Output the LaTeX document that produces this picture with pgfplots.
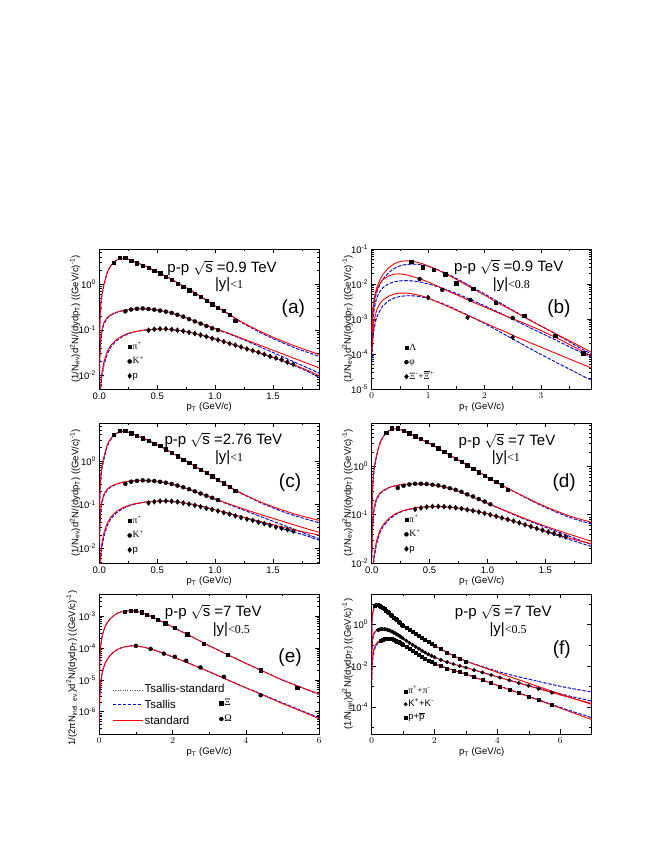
\documentclass[border=0pt]{standalone}
\usepackage{pgfplots}
\pgfplotsset{compat=1.18}
\usepackage{amsmath}
\usepackage{fontspec}
\setmainfont{Liberation Sans}
\newfontfamily\tnr{Liberation Serif}

\pgfplotsset{
  every axis/.append style={
    scale only axis, width=220pt, height=140pt,
    ymode=log, log basis y=10,
    axis line style={line width=0.7pt},
    xtick pos=both, ytick pos=both, tick align=inside,
    major tick length=4.5pt, minor tick length=2.5pt,
    tick style={black, line width=0.6pt},
    tick label style={font=\fontsize{9.5}{11}\selectfont},
    xlabel={p\textsubscript{T} (GeV/c)},
    legend cell align=left,
  },
  every axis x label/.style={at={(rel axis cs:0.5,-0.132)}, anchor=center, font=\fontsize{9.5}{11}\selectfont},
  every axis y label/.style={at={(rel axis cs:-0.11,0.5)}, anchor=center, rotate=90, font=\fontsize{9.5}{11}\selectfont},
  every axis legend/.append style={draw=none, fill=none, inner sep=0pt, row sep=3.5pt,
      font=\fontsize{9.5}{11}\selectfont,
      nodes={text height=7pt, text depth=2pt, inner sep=1pt}},
  redfit/.style={draw=red, line width=0.9pt, no marks},
  bluefit/.style={draw=blue, line width=0.9pt, dash pattern=on 3pt off 2pt, no marks},
  dotfit/.style={draw=black!70, line width=0.8pt, dash pattern=on 0.8pt off 1.6pt, no marks},
  msq/.style={only marks, mark=square*, mark size=1.7pt, black},
  mci/.style={only marks, mark=*, mark size=2.0pt, black},
  mdi/.style={only marks, mark=diamond*, mark size=2.5pt, black},
  fsq/.style={only marks, mark=square*, mark size=1.5pt, black},
  fci/.style={only marks, mark=*, mark size=1.8pt, black},
}
\tikzset{
  ttl/.style={font=\fontsize{15}{17}\selectfont},
  tagl/.style={font=\fontsize{19}{21}\selectfont},
}
\newcommand{\ylabA}{(1/N\textsubscript{ev})d\textsuperscript{2}N/(dydp\textsubscript{T}) ((GeV/c)\textsuperscript{-1})}
\newcommand{\ylabE}{1/(2πN\textsubscript{inel. ev.})d\textsuperscript{2}N/(dydp\textsubscript{T}) ((GeV/c)\textsuperscript{-1})}
\newcommand{\ylabF}{(1/N\textsubscript{inel})d\textsuperscript{2}N/(dydp\textsubscript{T}) ((GeV/c)\textsuperscript{-1})}
\newcommand{\yyy}[1]{|y|{\tnr\fontsize{12}{14}\selectfont <#1}}
\newcommand{\tenpow}[1]{10\textsuperscript{#1}}

\begin{document}
\begin{tikzpicture}
\path[use as bounding box] (0pt,0pt) rectangle (654pt,846pt);

% ================= (a) =================
\begin{axis}[at={(99.3pt,597pt)}, anchor=north west,
  xmin=0, xmax=1.9, ymin=0.005, ymax=6,
  xtick={0,0.5,1,1.5}, xticklabels={0.0,0.5,1.0,1.5}, minor xtick={0.25,0.75,1.25,1.75},
  ytick={0.01,0.1,1}, yticklabels={\tenpow{-2},\tenpow{-1},\tenpow{0}},
  minor ytick={0.006,0.007,0.008,0.009,0.02,0.03,0.04,0.05,0.06,0.07,0.08,0.09,0.2,0.3,0.4,0.5,0.6,0.7,0.8,0.9,2,3,4,5,6},
  ylabel={\ylabA},
  legend image code/.code={\draw[#1] plot coordinates {(0pt,0pt)};},
  legend style={at={(rel axis cs:0.128,0.341)}, anchor=north west}]
\addplot[dotfit, forget plot] coordinates {(0.002,0.05)(0.005,0.12)(0.01,0.25)(0.02,0.5)(0.035,0.83)(0.05,1.2)(0.065,1.7)(0.08,2.1)(0.1,2.55)(0.12,2.95)(0.15,3.42)(0.2,3.75)(0.25,3.6)(0.3,3.2)(0.4,2.5)(0.5,1.9)(0.6,1.4)(0.7,1.0)(0.8,0.71)(0.9,0.49)(1.0,0.335)(1.1,0.235)(1.2,0.16)(1.3,0.115)(1.4,0.085)(1.5,0.064)(1.6,0.05)(1.7,0.039)(1.8,0.032)(1.9,0.026)};
\addplot[bluefit, forget plot] coordinates {(0.002,0.05)(0.005,0.12)(0.01,0.25)(0.02,0.5)(0.035,0.83)(0.05,1.2)(0.065,1.7)(0.08,2.1)(0.1,2.55)(0.12,2.95)(0.15,3.42)(0.2,3.75)(0.25,3.6)(0.3,3.2)(0.4,2.5)(0.5,1.9)(0.6,1.4)(0.7,1.0)(0.8,0.71)(0.9,0.49)(1.0,0.335)(1.1,0.235)(1.2,0.16)(1.3,0.115)(1.4,0.085)(1.5,0.064)(1.6,0.05)(1.7,0.039)(1.8,0.032)(1.9,0.026)};
\addplot[dotfit, forget plot] coordinates {(0.002,0.009)(0.005,0.024)(0.01,0.046)(0.02,0.085)(0.04,0.135)(0.07,0.182)(0.1,0.21)(0.15,0.242)(0.2,0.263)(0.25,0.277)(0.3,0.285)(0.35,0.288)(0.4,0.287)(0.5,0.271)(0.6,0.245)(0.7,0.204)(0.8,0.164)(0.9,0.131)(1.0,0.105)(1.1,0.085)(1.2,0.068)(1.3,0.053)(1.4,0.041)(1.5,0.0318)(1.6,0.0245)(1.7,0.0188)(1.8,0.0145)(1.9,0.0112)};
\addplot[bluefit, forget plot] coordinates {(0.002,0.009)(0.005,0.024)(0.01,0.046)(0.02,0.085)(0.04,0.135)(0.07,0.182)(0.1,0.21)(0.15,0.242)(0.2,0.263)(0.25,0.277)(0.3,0.285)(0.35,0.288)(0.4,0.287)(0.5,0.271)(0.6,0.245)(0.7,0.204)(0.8,0.164)(0.9,0.131)(1.0,0.105)(1.1,0.085)(1.2,0.068)(1.3,0.053)(1.4,0.041)(1.5,0.0318)(1.6,0.0245)(1.7,0.0188)(1.8,0.0145)(1.9,0.0112)};
\addplot[dotfit, forget plot] coordinates {(0.005,0.002)(0.01,0.0042)(0.02,0.0085)(0.04,0.017)(0.07,0.03)(0.1,0.042)(0.15,0.058)(0.2,0.071)(0.25,0.082)(0.3,0.09)(0.4,0.1)(0.5,0.104)(0.6,0.103)(0.7,0.096)(0.8,0.086)(0.9,0.074)(1.0,0.063)(1.1,0.053)(1.2,0.044)(1.3,0.0363)(1.4,0.0298)(1.5,0.0244)(1.6,0.0198)(1.7,0.0158)(1.8,0.0122)(1.9,0.0089)};
\addplot[bluefit, forget plot] coordinates {(0.005,0.002)(0.01,0.0042)(0.02,0.0085)(0.04,0.017)(0.07,0.03)(0.1,0.042)(0.15,0.058)(0.2,0.071)(0.25,0.082)(0.3,0.09)(0.4,0.1)(0.5,0.104)(0.6,0.103)(0.7,0.096)(0.8,0.086)(0.9,0.074)(1.0,0.063)(1.1,0.053)(1.2,0.044)(1.3,0.0363)(1.4,0.0298)(1.5,0.0244)(1.6,0.0198)(1.7,0.0158)(1.8,0.0122)(1.9,0.0089)};
\addplot[redfit, forget plot] coordinates {(0.002,0.06)(0.005,0.15)(0.01,0.3)(0.02,0.55)(0.035,0.88)(0.05,1.25)(0.065,1.75)(0.08,2.15)(0.1,2.6)(0.12,3.0)(0.15,3.45)(0.2,3.75)(0.25,3.6)(0.3,3.2)(0.4,2.5)(0.5,1.9)(0.6,1.4)(0.7,1.0)(0.8,0.72)(0.9,0.5)(1.0,0.34)(1.1,0.24)(1.2,0.165)(1.3,0.12)(1.4,0.09)(1.5,0.069)(1.6,0.054)(1.7,0.043)(1.8,0.035)(1.9,0.0286)};
\addplot[redfit, forget plot] coordinates {(0.002,0.012)(0.005,0.03)(0.01,0.055)(0.02,0.095)(0.04,0.145)(0.07,0.19)(0.1,0.215)(0.15,0.245)(0.2,0.265)(0.25,0.278)(0.3,0.286)(0.35,0.289)(0.4,0.288)(0.5,0.272)(0.6,0.246)(0.7,0.205)(0.8,0.165)(0.9,0.132)(1.0,0.107)(1.1,0.0875)(1.2,0.07)(1.3,0.0558)(1.4,0.0446)(1.5,0.0356)(1.6,0.0285)(1.7,0.0227)(1.8,0.0182)(1.9,0.0145)};
\addplot[redfit, forget plot] coordinates {(0.005,0.003)(0.01,0.0055)(0.02,0.0105)(0.04,0.02)(0.07,0.034)(0.1,0.046)(0.15,0.062)(0.2,0.074)(0.25,0.084)(0.3,0.091)(0.4,0.1)(0.5,0.104)(0.6,0.103)(0.7,0.096)(0.8,0.086)(0.9,0.074)(1.0,0.063)(1.1,0.053)(1.2,0.044)(1.3,0.0365)(1.4,0.0303)(1.5,0.025)(1.6,0.0203)(1.7,0.0163)(1.8,0.0128)(1.9,0.0098)};
\addplot[msq] coordinates {(0.125,3.0)(0.175,3.9)(0.225,3.85)(0.275,3.35)(0.325,2.95)(0.375,2.6)(0.425,2.3)(0.475,2.0)(0.525,1.76)(0.575,1.48)(0.625,1.26)(0.675,1.05)(0.725,0.88)(0.775,0.74)(0.825,0.62)(0.875,0.53)(0.925,0.44)(0.975,0.37)(1.025,0.31)(1.075,0.26)(1.125,0.215)(1.175,0.16)};
\addlegendentry{{\tnr π\textsuperscript{+}}}
\addplot[mci] coordinates {(0.225,0.255)(0.275,0.28)(0.325,0.29)(0.375,0.295)(0.425,0.287)(0.475,0.278)(0.525,0.265)(0.575,0.252)(0.625,0.236)(0.675,0.215)(0.725,0.195)(0.775,0.172)(0.825,0.153)(0.875,0.137)(0.925,0.122)(0.975,0.108)(1.025,0.099)};
\addlegendentry{{\tnr K\textsuperscript{+}}}
\addplot[mdi] coordinates {(0.425,0.098)(0.475,0.103)(0.525,0.105)(0.575,0.105)(0.625,0.102)(0.675,0.098)(0.725,0.094)(0.775,0.088)(0.825,0.083)(0.875,0.077)(0.925,0.071)(0.975,0.065)(1.025,0.06)(1.075,0.055)(1.125,0.05)(1.175,0.046)(1.225,0.042)(1.275,0.038)(1.325,0.035)(1.375,0.032)(1.425,0.029)(1.475,0.026)(1.525,0.024)(1.575,0.022)(1.625,0.0195)(1.675,0.0175)};
\addlegendentry{p}
\node[ttl] at (rel axis cs:0.558,0.866) {p-p $\sqrt{\text{s}}$ =0.9 TeV};
\node[ttl] at (rel axis cs:0.59,0.747) {\yyy{1}};
\node[tagl] at (rel axis cs:0.882,0.574) {(a)};
\end{axis}

% ================= (b) =================
\begin{axis}[at={(371.7pt,597pt)}, anchor=north west,
  xmin=0, xmax=3.9, ymin=1e-5, ymax=0.1,
  xtick={0,1,2,3}, minor xtick={0.5,1.5,2.5,3.5},
  ytick={1e-5,1e-4,1e-3,1e-2,1e-1}, yticklabels={\tenpow{-5},\tenpow{-4},\tenpow{-3},\tenpow{-2},\tenpow{-1}},
  minor ytick={2e-5,3e-5,4e-5,5e-5,6e-5,7e-5,8e-5,9e-5,2e-4,3e-4,4e-4,5e-4,6e-4,7e-4,8e-4,9e-4,2e-3,3e-3,4e-3,5e-3,6e-3,7e-3,8e-3,9e-3,0.02,0.03,0.04,0.05,0.06,0.07,0.08,0.09},
  ylabel={\ylabA},
  legend image code/.code={\draw[#1] plot coordinates {(0pt,0pt)};},
  legend style={at={(rel axis cs:0.148,0.336)}, anchor=north west}]
\addplot[dotfit, forget plot] coordinates {(0.005,0.0003)(0.01,0.0006)(0.02,0.0012)(0.04,0.0025)(0.07,0.0045)(0.1,0.0065)(0.15,0.01)(0.2,0.0138)(0.3,0.021)(0.4,0.028)(0.5,0.033)(0.6,0.036)(0.7,0.037)(0.8,0.0365)(0.9,0.035)(1.0,0.032)(1.2,0.0245)(1.4,0.0175)(1.6,0.0118)(1.8,0.0079)(2.0,0.0052)(2.2,0.0034)(2.4,0.0022)(2.6,0.00145)(2.8,0.00095)(3.0,0.00063)(3.2,0.00042)(3.4,0.00028)(3.6,0.00018)(3.8,0.00012)(3.9,0.0001)};
\addplot[bluefit, forget plot] coordinates {(0.005,0.0003)(0.01,0.0006)(0.02,0.0012)(0.04,0.0025)(0.07,0.0045)(0.1,0.0065)(0.15,0.01)(0.2,0.0138)(0.3,0.021)(0.4,0.028)(0.5,0.033)(0.6,0.036)(0.7,0.037)(0.8,0.0365)(0.9,0.035)(1.0,0.032)(1.2,0.0245)(1.4,0.0175)(1.6,0.0118)(1.8,0.0079)(2.0,0.0052)(2.2,0.0034)(2.4,0.0022)(2.6,0.00145)(2.8,0.00095)(3.0,0.00063)(3.2,0.00042)(3.4,0.00028)(3.6,0.00018)(3.8,0.00012)(3.9,0.0001)};
\addplot[dotfit, forget plot] coordinates {(0.005,0.00022)(0.01,0.00045)(0.02,0.0009)(0.04,0.0018)(0.07,0.0031)(0.1,0.0044)(0.15,0.0063)(0.2,0.0079)(0.3,0.0102)(0.4,0.0116)(0.5,0.0123)(0.6,0.0125)(0.7,0.0123)(0.8,0.0118)(0.9,0.011)(1.0,0.0101)(1.2,0.0081)(1.4,0.0062)(1.6,0.0046)(1.8,0.0033)(2.0,0.0024)(2.2,0.0017)(2.4,0.00118)(2.6,0.00082)(2.8,0.00057)(3.0,0.0004)(3.2,0.00028)(3.4,0.000195)(3.6,0.000135)(3.8,0.000095)(3.9,0.00008)};
\addplot[bluefit, forget plot] coordinates {(0.005,0.00022)(0.01,0.00045)(0.02,0.0009)(0.04,0.0018)(0.07,0.0031)(0.1,0.0044)(0.15,0.0063)(0.2,0.0079)(0.3,0.0102)(0.4,0.0116)(0.5,0.0123)(0.6,0.0125)(0.7,0.0123)(0.8,0.0118)(0.9,0.011)(1.0,0.0101)(1.2,0.0081)(1.4,0.0062)(1.6,0.0046)(1.8,0.0033)(2.0,0.0024)(2.2,0.0017)(2.4,0.00118)(2.6,0.00082)(2.8,0.00057)(3.0,0.0004)(3.2,0.00028)(3.4,0.000195)(3.6,0.000135)(3.8,0.000095)(3.9,0.00008)};
\addplot[dotfit, forget plot] coordinates {(0.005,0.00006)(0.01,0.00012)(0.02,0.00025)(0.04,0.0005)(0.07,0.00088)(0.1,0.00125)(0.15,0.0018)(0.2,0.0024)(0.3,0.0033)(0.4,0.004)(0.5,0.0044)(0.6,0.0046)(0.7,0.0046)(0.8,0.0045)(0.9,0.0042)(1.0,0.0039)(1.2,0.003)(1.4,0.0022)(1.6,0.00155)(1.8,0.00108)(2.0,0.00074)(2.2,0.0005)(2.4,0.00033)(2.6,0.00022)(2.8,0.000145)(3.0,0.000097)(3.2,0.000066)(3.4,0.000045)(3.6,0.000031)(3.8,0.000021)(3.9,0.000018)};
\addplot[bluefit, forget plot] coordinates {(0.005,0.00006)(0.01,0.00012)(0.02,0.00025)(0.04,0.0005)(0.07,0.00088)(0.1,0.00125)(0.15,0.0018)(0.2,0.0024)(0.3,0.0033)(0.4,0.004)(0.5,0.0044)(0.6,0.0046)(0.7,0.0046)(0.8,0.0045)(0.9,0.0042)(1.0,0.0039)(1.2,0.003)(1.4,0.0022)(1.6,0.00155)(1.8,0.00108)(2.0,0.00074)(2.2,0.0005)(2.4,0.00033)(2.6,0.00022)(2.8,0.000145)(3.0,0.000097)(3.2,0.000066)(3.4,0.000045)(3.6,0.000031)(3.8,0.000021)(3.9,0.000018)};
\addplot[redfit, forget plot] coordinates {(0.005,0.00045)(0.01,0.0009)(0.02,0.0018)(0.04,0.0036)(0.07,0.0062)(0.1,0.0088)(0.15,0.0135)(0.2,0.019)(0.3,0.029)(0.4,0.038)(0.5,0.044)(0.6,0.046)(0.7,0.045)(0.8,0.042)(0.9,0.038)(1.0,0.033)(1.2,0.024)(1.4,0.0165)(1.6,0.011)(1.8,0.0073)(2.0,0.0048)(2.2,0.0031)(2.4,0.0021)(2.6,0.0014)(2.8,0.00093)(3.0,0.00063)(3.2,0.00043)(3.4,0.00029)(3.6,0.0002)(3.8,0.000135)(3.9,0.000112)};
\addplot[redfit, forget plot] coordinates {(0.005,0.0004)(0.01,0.0008)(0.02,0.0016)(0.04,0.0032)(0.07,0.0054)(0.1,0.0075)(0.15,0.0105)(0.2,0.0133)(0.3,0.017)(0.4,0.0192)(0.5,0.0195)(0.6,0.0185)(0.7,0.0168)(0.8,0.015)(0.9,0.0132)(1.0,0.0114)(1.2,0.0082)(1.4,0.0058)(1.6,0.0042)(1.8,0.003)(2.0,0.0022)(2.2,0.0016)(2.4,0.00118)(2.6,0.00088)(2.8,0.00065)(3.0,0.00047)(3.2,0.00033)(3.4,0.00023)(3.6,0.000155)(3.8,0.000105)(3.9,0.000088)};
\addplot[redfit, forget plot] coordinates {(0.005,0.0001)(0.01,0.0002)(0.02,0.0004)(0.04,0.0008)(0.07,0.0014)(0.1,0.002)(0.15,0.0028)(0.2,0.0035)(0.3,0.0045)(0.4,0.0052)(0.5,0.0055)(0.6,0.0055)(0.7,0.0053)(0.8,0.0049)(0.9,0.0045)(1.0,0.004)(1.2,0.0029)(1.4,0.0021)(1.6,0.0015)(1.8,0.00108)(2.0,0.00078)(2.2,0.00056)(2.4,0.00041)(2.6,0.00029)(2.8,0.000213)(3.0,0.000157)(3.2,0.000115)(3.4,0.000085)(3.6,0.000062)(3.8,0.000046)(3.9,0.000039)};
\addplot[msq] coordinates {(0.7,0.043)(0.9,0.030)(1.1,0.026)(1.3,0.019)(1.5,0.0105)(1.8,0.0072)(2.2,0.0029)(2.7,0.00123)(3.25,0.00033)(3.75,0.000105)};
\addlegendentry{{\tnr Λ}}
\addplot[mci] coordinates {(0.85,0.0139)(1.25,0.0068)(1.75,0.0035)(2.5,0.00107)};
\addlegendentry{{\tnr φ}}
\addplot[mdi] coordinates {(1.0,0.0041)(1.7,0.0011)(2.5,0.0003)};
\addlegendentry{{\tnr Ξ\textsuperscript{-}+$\overline{\text{Ξ}}$\textsuperscript{+}}}
\node[ttl] at (rel axis cs:0.623,0.873) {p-p $\sqrt{\text{s}}$ =0.9 TeV};
\node[ttl] at (rel axis cs:0.635,0.747) {\yyy{0.8}};
\node[tagl] at (rel axis cs:0.851,0.574) {(b)};
\end{axis}

% ================= (c) =================
\begin{axis}[at={(99.3pt,423pt)}, anchor=north west,
  xmin=0, xmax=1.9, ymin=0.0047, ymax=7.3,
  xtick={0,0.5,1,1.5}, xticklabels={0.0,0.5,1.0,1.5}, minor xtick={0.25,0.75,1.25,1.75},
  ytick={0.01,0.1,1}, yticklabels={\tenpow{-2},\tenpow{-1},\tenpow{0}},
  minor ytick={0.005,0.006,0.007,0.008,0.009,0.02,0.03,0.04,0.05,0.06,0.07,0.08,0.09,0.2,0.3,0.4,0.5,0.6,0.7,0.8,0.9,2,3,4,5,6,7},
  ylabel={\ylabA},
  legend image code/.code={\draw[#1] plot coordinates {(0pt,0pt)};},
  legend style={at={(rel axis cs:0.128,0.341)}, anchor=north west}]
\addplot[dotfit, forget plot] coordinates {(0.002,0.06)(0.005,0.15)(0.01,0.31)(0.02,0.6)(0.035,0.95)(0.05,1.4)(0.065,2.0)(0.08,2.5)(0.1,3.1)(0.12,3.65)(0.15,4.25)(0.2,4.7)(0.25,4.5)(0.3,4.0)(0.4,3.1)(0.5,2.35)(0.6,1.68)(0.7,1.18)(0.8,0.83)(0.9,0.58)(1.0,0.4)(1.1,0.275)(1.2,0.196)(1.3,0.145)(1.4,0.108)(1.5,0.085)(1.6,0.067)(1.7,0.055)(1.8,0.046)(1.9,0.039)};
\addplot[bluefit, forget plot] coordinates {(0.002,0.06)(0.005,0.15)(0.01,0.31)(0.02,0.6)(0.035,0.95)(0.05,1.4)(0.065,2.0)(0.08,2.5)(0.1,3.1)(0.12,3.65)(0.15,4.25)(0.2,4.7)(0.25,4.5)(0.3,4.0)(0.4,3.1)(0.5,2.35)(0.6,1.68)(0.7,1.18)(0.8,0.83)(0.9,0.58)(1.0,0.4)(1.1,0.275)(1.2,0.196)(1.3,0.145)(1.4,0.108)(1.5,0.085)(1.6,0.067)(1.7,0.055)(1.8,0.046)(1.9,0.039)};
\addplot[dotfit, forget plot] coordinates {(0.002,0.011)(0.005,0.028)(0.01,0.055)(0.02,0.1)(0.04,0.162)(0.07,0.22)(0.1,0.255)(0.15,0.296)(0.2,0.323)(0.25,0.341)(0.3,0.351)(0.35,0.356)(0.4,0.355)(0.5,0.341)(0.6,0.307)(0.7,0.26)(0.8,0.212)(0.9,0.169)(1.0,0.134)(1.1,0.106)(1.2,0.084)(1.3,0.067)(1.4,0.053)(1.5,0.042)(1.6,0.0335)(1.7,0.0265)(1.8,0.021)(1.9,0.0168)};
\addplot[bluefit, forget plot] coordinates {(0.002,0.011)(0.005,0.028)(0.01,0.055)(0.02,0.1)(0.04,0.162)(0.07,0.22)(0.1,0.255)(0.15,0.296)(0.2,0.323)(0.25,0.341)(0.3,0.351)(0.35,0.356)(0.4,0.355)(0.5,0.341)(0.6,0.307)(0.7,0.26)(0.8,0.212)(0.9,0.169)(1.0,0.134)(1.1,0.106)(1.2,0.084)(1.3,0.067)(1.4,0.053)(1.5,0.042)(1.6,0.0335)(1.7,0.0265)(1.8,0.021)(1.9,0.0168)};
\addplot[dotfit, forget plot] coordinates {(0.005,0.0024)(0.01,0.0048)(0.02,0.0097)(0.04,0.019)(0.07,0.034)(0.1,0.048)(0.15,0.066)(0.2,0.081)(0.25,0.093)(0.3,0.102)(0.4,0.115)(0.5,0.121)(0.6,0.121)(0.7,0.114)(0.8,0.103)(0.9,0.09)(1.0,0.077)(1.1,0.065)(1.2,0.055)(1.3,0.0465)(1.4,0.039)(1.5,0.033)(1.6,0.0275)(1.7,0.0232)(1.8,0.0192)(1.9,0.0155)};
\addplot[bluefit, forget plot] coordinates {(0.005,0.0024)(0.01,0.0048)(0.02,0.0097)(0.04,0.019)(0.07,0.034)(0.1,0.048)(0.15,0.066)(0.2,0.081)(0.25,0.093)(0.3,0.102)(0.4,0.115)(0.5,0.121)(0.6,0.121)(0.7,0.114)(0.8,0.103)(0.9,0.09)(1.0,0.077)(1.1,0.065)(1.2,0.055)(1.3,0.0465)(1.4,0.039)(1.5,0.033)(1.6,0.0275)(1.7,0.0232)(1.8,0.0192)(1.9,0.0155)};
\addplot[redfit, forget plot] coordinates {(0.002,0.075)(0.005,0.19)(0.01,0.38)(0.02,0.7)(0.035,1.1)(0.05,1.56)(0.065,2.2)(0.08,2.7)(0.1,3.25)(0.12,3.75)(0.15,4.3)(0.2,4.7)(0.25,4.5)(0.3,4.0)(0.4,3.1)(0.5,2.35)(0.6,1.68)(0.7,1.18)(0.8,0.83)(0.9,0.58)(1.0,0.405)(1.1,0.28)(1.2,0.2)(1.3,0.148)(1.4,0.113)(1.5,0.09)(1.6,0.073)(1.7,0.06)(1.8,0.051)(1.9,0.044)};
\addplot[redfit, forget plot] coordinates {(0.002,0.014)(0.005,0.035)(0.01,0.066)(0.02,0.115)(0.04,0.175)(0.07,0.23)(0.1,0.262)(0.15,0.3)(0.2,0.325)(0.25,0.342)(0.3,0.352)(0.35,0.357)(0.4,0.356)(0.5,0.342)(0.6,0.308)(0.7,0.262)(0.8,0.214)(0.9,0.171)(1.0,0.136)(1.1,0.109)(1.2,0.088)(1.3,0.072)(1.4,0.059)(1.5,0.049)(1.6,0.0405)(1.7,0.0335)(1.8,0.028)(1.9,0.0235)};
\addplot[redfit, forget plot] coordinates {(0.005,0.0034)(0.01,0.0063)(0.02,0.012)(0.04,0.023)(0.07,0.039)(0.1,0.053)(0.15,0.071)(0.2,0.085)(0.25,0.096)(0.3,0.105)(0.4,0.116)(0.5,0.121)(0.6,0.121)(0.7,0.114)(0.8,0.103)(0.9,0.09)(1.0,0.077)(1.1,0.066)(1.2,0.056)(1.3,0.048)(1.4,0.041)(1.5,0.035)(1.6,0.03)(1.7,0.0262)(1.8,0.023)(1.9,0.0203)};
\addplot[msq] coordinates {(0.125,3.9)(0.175,4.85)(0.225,4.85)(0.275,4.3)(0.325,3.75)(0.375,3.3)(0.425,2.9)(0.475,2.5)(0.525,2.2)(0.575,1.84)(0.625,1.54)(0.675,1.29)(0.725,1.08)(0.775,0.905)(0.825,0.757)(0.875,0.634)(0.925,0.53)(0.975,0.444)(1.025,0.372)(1.075,0.31)(1.125,0.255)(1.175,0.21)};
\addlegendentry{{\tnr π\textsuperscript{+}}}
\addplot[mci] coordinates {(0.225,0.30)(0.275,0.335)(0.325,0.35)(0.375,0.36)(0.425,0.355)(0.475,0.347)(0.525,0.333)(0.575,0.318)(0.625,0.298)(0.675,0.274)(0.725,0.25)(0.775,0.226)(0.825,0.202)(0.875,0.18)(0.925,0.161)(0.975,0.144)(1.025,0.128)};
\addlegendentry{{\tnr K\textsuperscript{+}}}
\addplot[mdi] coordinates {(0.425,0.11)(0.475,0.117)(0.525,0.121)(0.575,0.122)(0.625,0.12)(0.675,0.116)(0.725,0.11)(0.775,0.104)(0.825,0.097)(0.875,0.09)(0.925,0.083)(0.975,0.078)(1.025,0.072)(1.075,0.066)(1.125,0.061)(1.175,0.056)(1.225,0.051)(1.275,0.047)(1.325,0.044)(1.375,0.04)(1.425,0.037)(1.475,0.034)(1.525,0.031)(1.575,0.029)(1.625,0.027)(1.675,0.025)};
\addlegendentry{p}
\node[ttl] at (rel axis cs:0.564,0.878) {p-p $\sqrt{\text{s}}$ =2.76 TeV};
\node[ttl] at (rel axis cs:0.59,0.754) {\yyy{1}};
\node[tagl] at (rel axis cs:0.867,0.574) {(c)};
\end{axis}

% ================= (d) =================
\begin{axis}[at={(371.7pt,423pt)}, anchor=north west,
  xmin=0, xmax=1.9, ymin=0.01, ymax=8,
  xtick={0,0.5,1,1.5}, xticklabels={0.0,0.5,1.0,1.5}, minor xtick={0.25,0.75,1.25,1.75},
  ytick={0.01,0.1,1}, yticklabels={\tenpow{-2},\tenpow{-1},\tenpow{0}},
  minor ytick={0.02,0.03,0.04,0.05,0.06,0.07,0.08,0.09,0.2,0.3,0.4,0.5,0.6,0.7,0.8,0.9,2,3,4,5,6,7,8},
  ylabel={\ylabA},
  legend image code/.code={\draw[#1] plot coordinates {(0pt,0pt)};},
  legend style={at={(rel axis cs:0.148,0.349)}, anchor=north west}]
\addplot[dotfit, forget plot] coordinates {(0.002,0.08)(0.005,0.2)(0.01,0.42)(0.02,0.8)(0.035,1.35)(0.05,1.95)(0.065,2.7)(0.08,3.4)(0.1,4.1)(0.12,4.85)(0.15,5.55)(0.2,6.05)(0.25,5.8)(0.3,5.2)(0.4,3.95)(0.5,3.0)(0.6,2.2)(0.7,1.6)(0.8,1.16)(0.9,0.84)(1.0,0.6)(1.1,0.44)(1.2,0.328)(1.3,0.245)(1.4,0.185)(1.5,0.142)(1.6,0.112)(1.7,0.09)(1.8,0.075)(1.9,0.064)};
\addplot[bluefit, forget plot] coordinates {(0.002,0.08)(0.005,0.2)(0.01,0.42)(0.02,0.8)(0.035,1.35)(0.05,1.95)(0.065,2.7)(0.08,3.4)(0.1,4.1)(0.12,4.85)(0.15,5.55)(0.2,6.05)(0.25,5.8)(0.3,5.2)(0.4,3.95)(0.5,3.0)(0.6,2.2)(0.7,1.6)(0.8,1.16)(0.9,0.84)(1.0,0.6)(1.1,0.44)(1.2,0.328)(1.3,0.245)(1.4,0.185)(1.5,0.142)(1.6,0.112)(1.7,0.09)(1.8,0.075)(1.9,0.064)};
\addplot[dotfit, forget plot] coordinates {(0.002,0.013)(0.005,0.034)(0.01,0.066)(0.02,0.122)(0.04,0.2)(0.07,0.27)(0.1,0.312)(0.15,0.365)(0.2,0.397)(0.25,0.418)(0.3,0.431)(0.35,0.437)(0.4,0.437)(0.5,0.424)(0.6,0.389)(0.7,0.339)(0.8,0.274)(0.9,0.219)(1.0,0.172)(1.1,0.136)(1.2,0.107)(1.3,0.085)(1.4,0.068)(1.5,0.055)(1.6,0.045)(1.7,0.0365)(1.8,0.0295)(1.9,0.024)};
\addplot[bluefit, forget plot] coordinates {(0.002,0.013)(0.005,0.034)(0.01,0.066)(0.02,0.122)(0.04,0.2)(0.07,0.27)(0.1,0.312)(0.15,0.365)(0.2,0.397)(0.25,0.418)(0.3,0.431)(0.35,0.437)(0.4,0.437)(0.5,0.424)(0.6,0.389)(0.7,0.339)(0.8,0.274)(0.9,0.219)(1.0,0.172)(1.1,0.136)(1.2,0.107)(1.3,0.085)(1.4,0.068)(1.5,0.055)(1.6,0.045)(1.7,0.0365)(1.8,0.0295)(1.9,0.024)};
\addplot[dotfit, forget plot] coordinates {(0.01,0.0062)(0.02,0.012)(0.04,0.024)(0.07,0.042)(0.1,0.058)(0.15,0.08)(0.2,0.099)(0.25,0.114)(0.3,0.126)(0.4,0.141)(0.5,0.148)(0.6,0.148)(0.7,0.142)(0.8,0.132)(0.9,0.12)(1.0,0.105)(1.1,0.09)(1.2,0.077)(1.3,0.065)(1.4,0.054)(1.5,0.045)(1.6,0.0375)(1.7,0.031)(1.8,0.026)(1.9,0.022)};
\addplot[bluefit, forget plot] coordinates {(0.01,0.0062)(0.02,0.012)(0.04,0.024)(0.07,0.042)(0.1,0.058)(0.15,0.08)(0.2,0.099)(0.25,0.114)(0.3,0.126)(0.4,0.141)(0.5,0.148)(0.6,0.148)(0.7,0.142)(0.8,0.132)(0.9,0.12)(1.0,0.105)(1.1,0.09)(1.2,0.077)(1.3,0.065)(1.4,0.054)(1.5,0.045)(1.6,0.0375)(1.7,0.031)(1.8,0.026)(1.9,0.022)};
\addplot[redfit, forget plot] coordinates {(0.002,0.1)(0.005,0.25)(0.01,0.5)(0.02,0.92)(0.035,1.45)(0.05,2.05)(0.065,2.8)(0.08,3.5)(0.1,4.2)(0.12,4.9)(0.15,5.6)(0.2,6.05)(0.25,5.8)(0.3,5.2)(0.4,3.95)(0.5,3.0)(0.6,2.2)(0.7,1.6)(0.8,1.16)(0.9,0.84)(1.0,0.6)(1.1,0.44)(1.2,0.33)(1.3,0.25)(1.4,0.19)(1.5,0.148)(1.6,0.118)(1.7,0.096)(1.8,0.081)(1.9,0.0695)};
\addplot[redfit, forget plot] coordinates {(0.002,0.017)(0.005,0.043)(0.01,0.08)(0.02,0.14)(0.04,0.215)(0.07,0.28)(0.1,0.32)(0.15,0.37)(0.2,0.4)(0.25,0.42)(0.3,0.432)(0.35,0.438)(0.4,0.438)(0.5,0.425)(0.6,0.39)(0.7,0.34)(0.8,0.275)(0.9,0.22)(1.0,0.174)(1.1,0.138)(1.2,0.11)(1.3,0.088)(1.4,0.071)(1.5,0.058)(1.6,0.048)(1.7,0.04)(1.8,0.0335)(1.9,0.028)};
\addplot[redfit, forget plot] coordinates {(0.005,0.004)(0.01,0.0075)(0.02,0.0145)(0.04,0.028)(0.07,0.047)(0.1,0.063)(0.15,0.085)(0.2,0.103)(0.25,0.117)(0.3,0.128)(0.4,0.142)(0.5,0.148)(0.6,0.148)(0.7,0.142)(0.8,0.132)(0.9,0.12)(1.0,0.105)(1.1,0.09)(1.2,0.077)(1.3,0.065)(1.4,0.055)(1.5,0.046)(1.6,0.039)(1.7,0.033)(1.8,0.0285)(1.9,0.025)};
\addplot[msq] coordinates {(0.125,5.0)(0.175,6.3)(0.225,6.3)(0.275,5.6)(0.325,4.9)(0.375,4.3)(0.425,3.75)(0.475,3.25)(0.525,2.8)(0.575,2.38)(0.625,2.03)(0.675,1.73)(0.725,1.47)(0.775,1.25)(0.825,1.06)(0.875,0.905)(0.925,0.77)(0.975,0.655)(1.025,0.557)(1.075,0.48)(1.125,0.41)(1.175,0.33)};
\addlegendentry{{\tnr π\textsuperscript{+}}}
\addplot[mci] coordinates {(0.225,0.36)(0.275,0.4)(0.325,0.425)(0.375,0.44)(0.425,0.44)(0.475,0.435)(0.525,0.42)(0.575,0.405)(0.625,0.38)(0.675,0.355)(0.725,0.33)(0.775,0.3)(0.825,0.265)(0.875,0.24)(0.925,0.212)(0.975,0.188)(1.025,0.165)};
\addlegendentry{{\tnr K\textsuperscript{+}}}
\addplot[mdi] coordinates {(0.375,0.13)(0.425,0.138)(0.475,0.145)(0.525,0.149)(0.575,0.149)(0.625,0.147)(0.675,0.144)(0.725,0.14)(0.775,0.134)(0.825,0.127)(0.875,0.121)(0.925,0.114)(0.975,0.107)(1.025,0.1)(1.075,0.093)(1.125,0.086)(1.175,0.08)(1.225,0.074)(1.275,0.068)(1.325,0.062)(1.375,0.057)(1.425,0.052)(1.475,0.048)(1.525,0.044)(1.575,0.041)(1.625,0.038)(1.675,0.035)};
\addlegendentry{p}
\node[ttl] at (rel axis cs:0.615,0.873) {p-p $\sqrt{\text{s}}$ =7 TeV};
\node[ttl] at (rel axis cs:0.61,0.754) {\yyy{1}};
\node[tagl] at (rel axis cs:0.875,0.574) {(d)};
\end{axis}

% ================= (e) =================
\begin{axis}[at={(99.3pt,252pt)}, anchor=north west,
  xmin=0, xmax=6, ymin=2e-7, ymax=5e-3,
  xtick={0,2,4,6}, minor xtick={1,3,5},
  ytick={1e-6,1e-5,1e-4,1e-3}, yticklabels={\tenpow{-6},\tenpow{-5},\tenpow{-4},\tenpow{-3}},
  minor ytick={3e-7,4e-7,5e-7,6e-7,7e-7,8e-7,9e-7,2e-6,3e-6,4e-6,5e-6,6e-6,7e-6,8e-6,9e-6,2e-5,3e-5,4e-5,5e-5,6e-5,7e-5,8e-5,9e-5,2e-4,3e-4,4e-4,5e-4,6e-4,7e-4,8e-4,9e-4,2e-3,3e-3,4e-3},
  ylabel={\ylabE},
  ylabel style={at={(rel axis cs:-0.125,0.47)}},
  legend image code/.code={\path (0pt,0pt) -- (30pt,0pt);},
  legend style={at={(rel axis cs:0.062,0.37)}, anchor=north west, row sep=2pt,
    font=\fontsize{11.5}{13}\selectfont, nodes={text height=8.5pt, text depth=2.5pt, inner sep=1.5pt}}]
\addplot[dotfit, forget plot] coordinates {(0.002,5e-6)(0.005,1.3e-5)(0.01,2.8e-5)(0.02,5.8e-5)(0.04,1.18e-4)(0.07,2.1e-4)(0.1,3e-4)(0.15,4.5e-4)(0.2,5.9e-4)(0.3,8.4e-4)(0.4,1.06e-3)(0.5,1.25e-3)(0.6,1.38e-3)(0.7,1.46e-3)(0.85,1.5e-3)(1.0,1.46e-3)(1.2,1.25e-3)(1.4,1.0e-3)(1.6,7.8e-4)(1.8,6.0e-4)(2.0,4.6e-4)(2.2,3.5e-4)(2.4,2.7e-4)(2.6,2.05e-4)(2.8,1.55e-4)(3.0,1.18e-4)(3.5,6.2e-5)(4.0,3.3e-5)(4.5,1.8e-5)(5.0,9.8e-6)(5.5,5.8e-6)(6.0,3.5e-6)};
\addplot[bluefit, forget plot] coordinates {(0.002,5e-6)(0.005,1.3e-5)(0.01,2.8e-5)(0.02,5.8e-5)(0.04,1.18e-4)(0.07,2.1e-4)(0.1,3e-4)(0.15,4.5e-4)(0.2,5.9e-4)(0.3,8.4e-4)(0.4,1.06e-3)(0.5,1.25e-3)(0.6,1.38e-3)(0.7,1.46e-3)(0.85,1.5e-3)(1.0,1.46e-3)(1.2,1.25e-3)(1.4,1.0e-3)(1.6,7.8e-4)(1.8,6.0e-4)(2.0,4.6e-4)(2.2,3.5e-4)(2.4,2.7e-4)(2.6,2.05e-4)(2.8,1.55e-4)(3.0,1.18e-4)(3.5,6.2e-5)(4.0,3.3e-5)(4.5,1.8e-5)(5.0,9.8e-6)(5.5,5.8e-6)(6.0,3.5e-6)};
\addplot[dotfit, forget plot] coordinates {(0.002,3.5e-7)(0.005,1.0e-6)(0.01,2.0e-6)(0.02,4.1e-6)(0.04,8.4e-6)(0.07,1.5e-5)(0.1,2.1e-5)(0.15,3.15e-5)(0.2,4.1e-5)(0.3,6.0e-5)(0.4,7.7e-5)(0.5,9.1e-5)(0.6,1.02e-4)(0.7,1.1e-4)(0.85,1.17e-4)(1.0,1.17e-4)(1.2,1.08e-4)(1.4,9.4e-5)(1.6,7.9e-5)(1.8,6.5e-5)(2.0,5.3e-5)(2.2,4.3e-5)(2.4,3.5e-5)(2.6,2.8e-5)(2.8,2.25e-5)(3.0,1.8e-5)(3.5,1.0e-5)(4.0,5.7e-6)(4.5,3.3e-6)(5.0,1.9e-6)(5.5,1.1e-6)(6.0,6.5e-7)};
\addplot[bluefit, forget plot] coordinates {(0.002,3.5e-7)(0.005,1.0e-6)(0.01,2.0e-6)(0.02,4.1e-6)(0.04,8.4e-6)(0.07,1.5e-5)(0.1,2.1e-5)(0.15,3.15e-5)(0.2,4.1e-5)(0.3,6.0e-5)(0.4,7.7e-5)(0.5,9.1e-5)(0.6,1.02e-4)(0.7,1.1e-4)(0.85,1.17e-4)(1.0,1.17e-4)(1.2,1.08e-4)(1.4,9.4e-5)(1.6,7.9e-5)(1.8,6.5e-5)(2.0,5.3e-5)(2.2,4.3e-5)(2.4,3.5e-5)(2.6,2.8e-5)(2.8,2.25e-5)(3.0,1.8e-5)(3.5,1.0e-5)(4.0,5.7e-6)(4.5,3.3e-6)(5.0,1.9e-6)(5.5,1.1e-6)(6.0,6.5e-7)};
\addplot[redfit, forget plot] coordinates {(0.002,6e-6)(0.005,1.5e-5)(0.01,3e-5)(0.02,6e-5)(0.04,1.2e-4)(0.07,2.1e-4)(0.1,3e-4)(0.15,4.5e-4)(0.2,5.9e-4)(0.3,8.4e-4)(0.4,1.06e-3)(0.5,1.25e-3)(0.6,1.38e-3)(0.7,1.46e-3)(0.85,1.5e-3)(1.0,1.46e-3)(1.2,1.25e-3)(1.4,1.0e-3)(1.6,7.8e-4)(1.8,6.0e-4)(2.0,4.6e-4)(2.2,3.5e-4)(2.4,2.7e-4)(2.6,2.05e-4)(2.8,1.55e-4)(3.0,1.18e-4)(3.5,6.2e-5)(4.0,3.3e-5)(4.5,1.8e-5)(5.0,9.8e-6)(5.5,5.9e-6)(6.0,3.6e-6)};
\addplot[redfit, forget plot] coordinates {(0.002,4.2e-7)(0.005,1.06e-6)(0.01,2.1e-6)(0.02,4.2e-6)(0.04,8.5e-6)(0.07,1.5e-5)(0.1,2.1e-5)(0.15,3.15e-5)(0.2,4.1e-5)(0.3,6.0e-5)(0.4,7.7e-5)(0.5,9.1e-5)(0.6,1.02e-4)(0.7,1.1e-4)(0.85,1.17e-4)(1.0,1.17e-4)(1.2,1.08e-4)(1.4,9.4e-5)(1.6,7.9e-5)(1.8,6.5e-5)(2.0,5.3e-5)(2.2,4.3e-5)(2.4,3.5e-5)(2.6,2.8e-5)(2.8,2.25e-5)(3.0,1.8e-5)(3.5,1.0e-5)(4.0,5.6e-6)(4.5,3.2e-6)(5.0,1.8e-6)(5.5,1.05e-6)(6.0,6.0e-7)};
\addplot[msq, forget plot] coordinates {(0.7,1.4e-3)(0.85,1.5e-3)(1.0,1.47e-3)(1.15,1.33e-3)(1.3,1.12e-3)(1.45,9.5e-4)(1.6,7.8e-4)(1.8,6.0e-4)(2.05,4.3e-4)(2.4,2.75e-4)(2.85,1.38e-4)(3.5,6.2e-5)(4.4,2.0e-5)(5.4,5.8e-6)};
\addplot[mci, forget plot] coordinates {(1.0,1.17e-4)(1.4,9.4e-5)(1.76,6.7e-5)(2.06,5.3e-5)(2.37,4.0e-5)(2.76,2.46e-5)(3.4,1.25e-5)(4.4,3.3e-6)};
% legend line samples (drawn in the legend rows)
\addplot[dotfit, forget plot] coordinates {(0.374,4.83e-6)(1.19,4.83e-6)};
\addplot[bluefit, forget plot] coordinates {(0.374,1.66e-6)(1.19,1.66e-6)};
\addplot[redfit, forget plot] coordinates {(0.374,5.52e-7)(1.19,5.52e-7)};
\addlegendimage{draw=none}
\addlegendentry{Tsallis-standard}
\addlegendimage{draw=none}
\addlegendentry{Tsallis}
\addlegendimage{draw=none}
\addlegendentry{standard}
\node[ttl] at (rel axis cs:0.518,0.871) {p-p $\sqrt{\text{s}}$ =7 TeV};
\node[ttl] at (rel axis cs:0.6,0.748) {\yyy{0.5}};
\node[tagl] at (rel axis cs:0.867,0.545) {(e)};
\end{axis}
% second legend of (e): the markers
\begin{axis}[hide axis, at={(99.3pt,252pt)}, anchor=north west,
  xmin=0, xmax=6, ymin=2e-7, ymax=5e-3,
  legend image code/.code={\draw[#1] plot coordinates {(0pt,0pt)};},
  legend style={at={(rel axis cs:0.545,0.262)}, anchor=north west, row sep=5pt,
    font=\fontsize{10}{12}\selectfont}]
\addlegendimage{msq}
\addlegendentry{{\tnr Ξ}}
\addlegendimage{mci}
\addlegendentry{{\tnr Ω}}
\end{axis}

% ================= (f) =================
\begin{axis}[at={(371.7pt,252pt)}, anchor=north west,
  xmin=0, xmax=7, ymin=5e-6, ymax=30,
  xtick={0,2,4,6}, minor xtick={1,3,5},
  ytick={1e-4,1e-2,1}, yticklabels={\tenpow{-4},\tenpow{-2},\tenpow{0}},
  minor ytick={1e-5,1e-3,1e-1,10},
  ylabel={\ylabF},
  legend image code/.code={\draw[#1] plot coordinates {(0pt,0pt)};},
  legend style={at={(rel axis cs:0.145,0.346)}, anchor=north west, row sep=2pt}]
\addplot[dotfit, forget plot] coordinates {(0.002,0.15)(0.005,0.4)(0.01,0.9)(0.02,1.9)(0.04,3.6)(0.07,5.8)(0.1,7.4)(0.15,9.0)(0.2,9.3)(0.25,8.6)(0.3,7.6)(0.4,5.7)(0.5,4.2)(0.6,3.1)(0.7,2.25)(0.8,1.65)(0.9,1.2)(1.0,0.88)(1.2,0.55)(1.4,0.345)(1.6,0.22)(1.8,0.142)(2.0,0.094)(2.2,0.064)(2.4,0.044)(2.6,0.031)(2.8,0.0225)(3.0,0.0166)(3.5,9.4e-3)(4.0,5.4e-3)(4.5,3.4e-3)(5.0,2.25e-3)(5.5,1.5e-3)(6.0,1.02e-3)(6.5,7.3e-4)(7.0,5.4e-4)};
\addplot[bluefit, forget plot] coordinates {(0.002,0.15)(0.005,0.4)(0.01,0.9)(0.02,1.9)(0.04,3.6)(0.07,5.8)(0.1,7.4)(0.15,9.0)(0.2,9.3)(0.25,8.6)(0.3,7.6)(0.4,5.7)(0.5,4.2)(0.6,3.1)(0.7,2.25)(0.8,1.65)(0.9,1.2)(1.0,0.88)(1.2,0.55)(1.4,0.345)(1.6,0.22)(1.8,0.142)(2.0,0.094)(2.2,0.064)(2.4,0.044)(2.6,0.031)(2.8,0.0225)(3.0,0.0166)(3.5,9.4e-3)(4.0,5.4e-3)(4.5,3.4e-3)(5.0,2.25e-3)(5.5,1.5e-3)(6.0,1.02e-3)(6.5,7.3e-4)(7.0,5.4e-4)};
\addplot[dotfit, forget plot] coordinates {(0.002,0.012)(0.005,0.03)(0.01,0.06)(0.02,0.12)(0.04,0.22)(0.07,0.33)(0.1,0.41)(0.15,0.5)(0.2,0.55)(0.3,0.59)(0.4,0.592)(0.5,0.555)(0.6,0.49)(0.7,0.41)(0.8,0.335)(0.9,0.27)(1.0,0.21)(1.2,0.13)(1.4,0.083)(1.6,0.054)(1.8,0.036)(2.0,0.026)(2.2,0.0195)(2.4,0.015)(2.6,0.0122)(2.8,0.0099)(3.0,0.0082)(3.5,4.9e-3)(4.0,2.95e-3)(4.5,1.78e-3)(5.0,1.1e-3)(5.5,6.9e-4)(6.0,4.4e-4)(6.5,2.9e-4)(7.0,1.95e-4)};
\addplot[bluefit, forget plot] coordinates {(0.002,0.012)(0.005,0.03)(0.01,0.06)(0.02,0.12)(0.04,0.22)(0.07,0.33)(0.1,0.41)(0.15,0.5)(0.2,0.55)(0.3,0.59)(0.4,0.592)(0.5,0.555)(0.6,0.49)(0.7,0.41)(0.8,0.335)(0.9,0.27)(1.0,0.21)(1.2,0.13)(1.4,0.083)(1.6,0.054)(1.8,0.036)(2.0,0.026)(2.2,0.0195)(2.4,0.015)(2.6,0.0122)(2.8,0.0099)(3.0,0.0082)(3.5,4.9e-3)(4.0,2.95e-3)(4.5,1.78e-3)(5.0,1.1e-3)(5.5,6.9e-4)(6.0,4.4e-4)(6.5,2.9e-4)(7.0,1.95e-4)};
\addplot[dotfit, forget plot] coordinates {(0.002,0.0012)(0.005,0.003)(0.01,0.006)(0.02,0.012)(0.04,0.026)(0.07,0.048)(0.1,0.07)(0.15,0.1)(0.2,0.128)(0.3,0.17)(0.4,0.195)(0.5,0.208)(0.6,0.205)(0.7,0.183)(0.8,0.155)(0.9,0.127)(1.0,0.101)(1.2,0.065)(1.4,0.042)(1.6,0.0275)(1.8,0.0183)(2.0,0.0125)(2.5,0.0068)(3.0,0.004)(3.5,2.1e-3)(4.0,1.13e-3)(4.5,6.1e-4)(5.0,3.3e-4)(5.5,1.8e-4)(6.0,9.7e-5)(6.5,5.4e-5)(7.0,3.1e-5)};
\addplot[bluefit, forget plot] coordinates {(0.002,0.0012)(0.005,0.003)(0.01,0.006)(0.02,0.012)(0.04,0.026)(0.07,0.048)(0.1,0.07)(0.15,0.1)(0.2,0.128)(0.3,0.17)(0.4,0.195)(0.5,0.208)(0.6,0.205)(0.7,0.183)(0.8,0.155)(0.9,0.127)(1.0,0.101)(1.2,0.065)(1.4,0.042)(1.6,0.0275)(1.8,0.0183)(2.0,0.0125)(2.5,0.0068)(3.0,0.004)(3.5,2.1e-3)(4.0,1.13e-3)(4.5,6.1e-4)(5.0,3.3e-4)(5.5,1.8e-4)(6.0,9.7e-5)(6.5,5.4e-5)(7.0,3.1e-5)};
\addplot[redfit, forget plot] coordinates {(0.002,0.28)(0.005,0.7)(0.01,1.35)(0.02,2.5)(0.04,4.3)(0.07,6.4)(0.1,7.8)(0.15,9.2)(0.2,9.3)(0.25,8.6)(0.3,7.6)(0.4,5.7)(0.5,4.2)(0.6,3.1)(0.7,2.25)(0.8,1.65)(0.9,1.2)(1.0,0.88)(1.2,0.55)(1.4,0.345)(1.6,0.22)(1.8,0.142)(2.0,0.094)(2.2,0.064)(2.4,0.044)(2.6,0.031)(2.8,0.0225)(3.0,0.0166)(3.5,8.9e-3)(4.0,4.8e-3)(4.5,2.6e-3)(5.0,1.42e-3)(5.5,7.8e-4)(6.0,4.3e-4)(6.5,2.4e-4)(7.0,1.35e-4)};
\addplot[redfit, forget plot] coordinates {(0.002,0.02)(0.005,0.05)(0.01,0.1)(0.02,0.18)(0.04,0.29)(0.07,0.39)(0.1,0.45)(0.15,0.52)(0.2,0.56)(0.3,0.595)(0.4,0.595)(0.5,0.555)(0.6,0.49)(0.7,0.41)(0.8,0.335)(0.9,0.27)(1.0,0.21)(1.2,0.13)(1.4,0.083)(1.6,0.054)(1.8,0.036)(2.0,0.026)(2.2,0.0195)(2.4,0.015)(2.6,0.0122)(2.8,0.0099)(3.0,0.0082)(3.5,4.9e-3)(4.0,2.9e-3)(4.5,1.75e-3)(5.0,1.06e-3)(5.5,6.4e-4)(6.0,3.9e-4)(6.5,2.4e-4)(7.0,1.5e-4)};
\addplot[redfit, forget plot] coordinates {(0.002,0.002)(0.005,0.005)(0.01,0.01)(0.02,0.02)(0.04,0.038)(0.07,0.065)(0.1,0.088)(0.15,0.12)(0.2,0.145)(0.3,0.18)(0.4,0.2)(0.5,0.21)(0.6,0.205)(0.7,0.183)(0.8,0.155)(0.9,0.127)(1.0,0.101)(1.2,0.065)(1.4,0.042)(1.6,0.0275)(1.8,0.0183)(2.0,0.0125)(2.5,0.0068)(3.0,0.004)(3.5,2.1e-3)(4.0,1.12e-3)(4.5,6.0e-4)(5.0,3.2e-4)(5.5,1.7e-4)(6.0,9e-5)(6.5,4.7e-5)(7.0,2.5e-5)};
\addplot[fsq] coordinates {(0.1,7.8)(0.15,9.3)(0.2,9.4)(0.25,8.6)(0.3,7.6)(0.35,6.6)(0.4,5.7)(0.45,4.9)(0.5,4.2)(0.55,3.6)(0.6,3.1)(0.65,2.65)(0.7,2.25)(0.75,1.93)(0.8,1.65)(0.85,1.4)(0.9,1.2)(0.95,1.03)(1.0,0.88)(1.1,0.7)(1.2,0.55)(1.3,0.435)(1.4,0.345)(1.5,0.275)(1.6,0.22)(1.7,0.176)(1.8,0.142)(1.9,0.115)(2.0,0.094)(2.2,0.064)(2.4,0.044)(2.6,0.031)(2.8,0.0225)(3.0,0.0166)};
\addlegendentry{{\tnr π\textsuperscript{+}+π\textsuperscript{-}}}
\addplot[fci] coordinates {(0.2,0.54)(0.25,0.57)(0.3,0.595)(0.35,0.6)(0.4,0.595)(0.45,0.58)(0.5,0.555)(0.55,0.525)(0.6,0.49)(0.65,0.45)(0.7,0.41)(0.75,0.37)(0.8,0.335)(0.85,0.3)(0.9,0.27)(0.95,0.24)(1.0,0.21)(1.1,0.165)(1.2,0.13)(1.3,0.104)(1.4,0.083)(1.5,0.067)(1.6,0.054)(1.7,0.044)(1.8,0.036)(1.9,0.031)(2.0,0.026)(2.2,0.0195)(2.4,0.015)(2.6,0.0122)(2.8,0.0099)(3.0,0.0082)(3.26,6.2e-3)(3.52,4.8e-3)(3.8,3.6e-3)(4.08,2.7e-3)(4.38,2.0e-3)(4.68,1.47e-3)(4.99,1.07e-3)(5.31,7.7e-4)(5.73,5.0e-4)};
\addlegendentry{K\textsuperscript{+}+K\textsuperscript{-}}
\addplot[fsq] coordinates {(0.3,0.17)(0.35,0.188)(0.4,0.2)(0.45,0.206)(0.5,0.21)(0.55,0.209)(0.6,0.205)(0.65,0.195)(0.7,0.183)(0.75,0.17)(0.8,0.155)(0.85,0.141)(0.9,0.127)(0.95,0.114)(1.0,0.101)(1.1,0.081)(1.2,0.065)(1.3,0.052)(1.4,0.042)(1.5,0.034)(1.6,0.0275)(1.7,0.0225)(1.8,0.0183)(1.9,0.015)(2.0,0.0125)(2.2,0.0098)(2.4,0.0075)(2.6,0.0061)(2.8,0.005)(3.0,0.004)(3.26,2.9e-3)(3.52,2.05e-3)(3.8,1.45e-3)(4.08,1.0e-3)(4.38,7.0e-4)(4.68,4.9e-4)(4.99,3.3e-4)(5.31,2.3e-4)(5.73,1.3e-4)};
\addlegendentry{p+$\overline{\text{p}}$}
\node[ttl] at (rel axis cs:0.598,0.871) {p-p $\sqrt{\text{s}}$ =7 TeV};
\node[ttl] at (rel axis cs:0.62,0.748) {\yyy{0.5}};
\node[tagl] at (rel axis cs:0.864,0.605) {(f)};
\end{axis}
\end{tikzpicture}
\end{document}
